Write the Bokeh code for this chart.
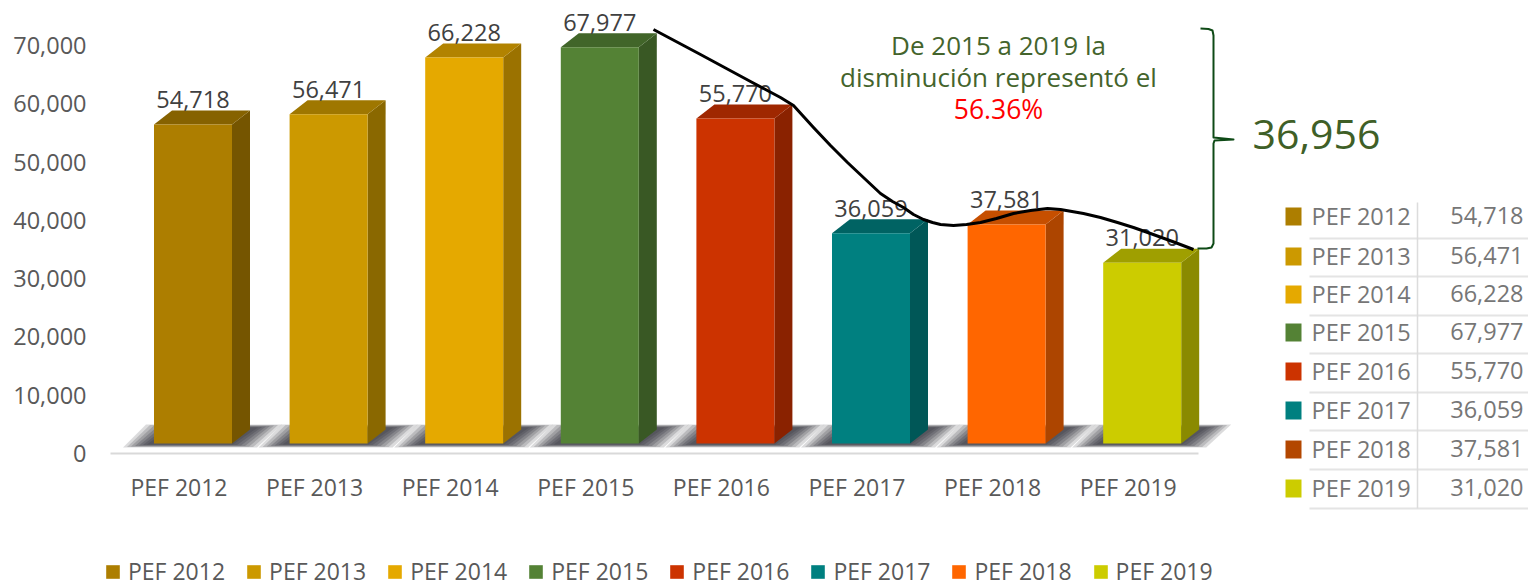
from bokeh.plotting import figure
from bokeh.models import Range1d, FixedTicker, ColumnDataSource, Legend, LegendItem, NumeralTickFormatter
from bokeh.core.properties import value
from bokeh.embed import file_html
from bokeh.resources import INLINE

# ---------- data ----------
categories = ["PEF 2012", "PEF 2013", "PEF 2014", "PEF 2015", "PEF 2016", "PEF 2017", "PEF 2018", "PEF 2019"]
values = [54718, 56471, 66228, 67977, 55770, 36059, 37581, 31020]
colors = ["#AD7E00", "#CC9900", "#E5A900", "#548235", "#CC3300", "#008080", "#FF6600", "#CCCC00"]
table_colors = ["#AD7E00", "#CC9900", "#E5A900", "#548235", "#CC3300", "#008080", "#B34700", "#CCCC00"]
y_ticks = [0, 10000, 20000, 30000, 40000, 50000, 60000, 70000]
note_lines = ["De 2015 a 2019 la", "disminución representó el"]
note_pct = "56.36%"
total_drop = "36,956"
# hand-drawn trend curve and brace, image pixels
curve_x = [653, 700, 750, 780, 793, 813, 830, 847, 864, 880, 892, 903, 913, 923, 932, 940, 953, 966, 980, 996, 1013, 1030, 1047, 1060, 1083, 1100, 1117, 1133, 1150, 1172, 1193]
curve_y = [29, 54, 81, 97, 105, 127, 145, 162, 178, 193, 201, 207, 214, 219, 222, 224, 225, 224, 222, 218, 213, 210, 208, 209, 213, 217, 222, 227, 233, 241, 249]
brace_x = [1200, 1208, 1212, 1213, 1213, 1233, 1214, 1213, 1213, 1211, 1206, 1197]
brace_y = [28, 28.5, 30, 35, 137, 139, 140, 143, 243, 247, 248, 248]

# ---------- layout (image pixels) ----------
FRAME_L, FRAME_R, FRAME_T, FRAME_B = 100, 1528, 0, 587
CAT0, CAT_STEP = 178.5, 135.6
Y0, Y_PX = 453.0, 408.0 / 70000.0
bar_shift = 14 / CAT_STEP
half_w = 39 / CAT_STEP
dx = 18 / CAT_STEP
dy = 14 / Y_PX
floor = 10 / Y_PX


def shade(hex_color, k):
    r, g, b = (int(hex_color[i:i + 2], 16) for i in (1, 3, 5))
    return "#%02x%02x%02x" % (int(r * k), int(g * k), int(b * k))


p = figure(
    width=FRAME_R, height=FRAME_B, output_backend="svg", toolbar_location=None,
    x_range=Range1d((FRAME_L - CAT0) / CAT_STEP, (FRAME_R - CAT0) / CAT_STEP),
    y_range=Range1d((Y0 - FRAME_B) / Y_PX, (Y0 - FRAME_T) / Y_PX),
    min_border_left=FRAME_L, min_border_right=0, min_border_top=0, min_border_bottom=0,
    outline_line_color=None,
)
p.extra_x_ranges = {"px": Range1d(FRAME_L, FRAME_R)}
p.extra_y_ranges = {"px": Range1d(FRAME_B, FRAME_T)}
p.grid.visible = False

FONT = value("Open Sans")
SIZE = value("23.5px")

# axes
p.yaxis.ticker = FixedTicker(ticks=y_ticks)
p.yaxis.formatter = NumeralTickFormatter(format="0,0")
p.yaxis.axis_line_color = None
p.yaxis.major_tick_line_color = None
p.yaxis.minor_tick_line_color = None
p.yaxis.major_label_standoff = 8
p.yaxis.major_label_text_font = "Open Sans"
p.yaxis.major_label_text_font_size = "23.5px"
p.yaxis.major_label_text_color = "#595959"

p.xaxis.fixed_location = 0
p.xaxis.ticker = FixedTicker(ticks=list(range(len(categories))))
p.xaxis.major_label_overrides = {i: c for i, c in enumerate(categories)}
p.xaxis.bounds = ((110 - CAT0) / CAT_STEP, (1198 - CAT0) / CAT_STEP)
p.xaxis.axis_line_color = "#d9d9d9"
p.xaxis.axis_line_width = 2
p.xaxis.major_tick_line_color = None
p.xaxis.minor_tick_line_color = None
p.xaxis.major_label_standoff = 11
p.xaxis.major_label_text_font = "Open Sans"
p.xaxis.major_label_text_font_size = "23px"
p.xaxis.major_label_text_color = "#595959"

# ---------- bars ----------
xc = [i + bar_shift for i in range(len(values))]
lefts = [x - half_w for x in xc]
rights = [x + half_w for x in xc]
tops = [v + floor for v in values]
bottoms = [floor] * len(values)

# soft floor shadow, built as stacked translucent layers
sh_low = floor - 4 / Y_PX
sh_high = floor + 19 / Y_PX
for inset, alpha in ((0, 0.2), (4, 0.22), (8, 0.25), (12, 0.3), (16, 0.35), (20, 0.4), (24, 0.45)):
    vin = inset * 0.12 / Y_PX
    xs, ys = [], []
    for l, r in zip(lefts, rights):
        xs.append([l - (31 - inset) / CAT_STEP, l - (8 - inset) / CAT_STEP,
                   r + (50 - inset) / CAT_STEP, r + (25 - inset) / CAT_STEP])
        ys.append([sh_low + vin, sh_high - vin, sh_high - vin, sh_low + vin])
    p.patches(xs, ys, fill_color="#4a4a52", fill_alpha=alpha, line_color=None)

side_xs = [[r, r + dx, r + dx, r] for r in rights]
side_ys = [[b, b + dy, t + dy, t] for b, t in zip(bottoms, tops)]
p.patches(side_xs, side_ys, fill_color=[shade(c, 0.68) for c in colors], line_color=None)

top_xs = [[l, l + dx, r + dx, r] for l, r in zip(lefts, rights)]
top_ys = [[t, t + dy, t + dy, t] for t in tops]
p.patches(top_xs, top_ys, fill_color=[shade(c, 0.78) for c in colors], line_color=None)

src = ColumnDataSource(dict(left=lefts, right=rights, top=tops, bottom=bottoms, color=colors))
front = p.quad(left="left", right="right", top="top", bottom="bottom", fill_color="color", line_color=None, source=src)

# value labels above the bars
p.text(xc, values, text=[f"{v:,}" for v in values], text_align="center", text_baseline="middle",
       y_offset=-35, text_font=FONT, text_font_size=SIZE, text_color="#404040")

# ---------- trend curve and brace ----------
PX = dict(x_range_name="px", y_range_name="px")
p.line(curve_x, curve_y, line_color="#000000", line_width=3, line_join="round", **PX)
p.line(brace_x, brace_y, line_color="#0e4a16", line_width=2, line_join="round", **PX)

# ---------- annotation texts ----------
p.text([998, 998], [44, 76], text=note_lines, text_align="center", text_baseline="middle",
       text_font=FONT, text_font_size=value("26px"), text_color="#44642c", **PX)
p.text([998], [108], text=[note_pct], text_align="center", text_baseline="middle",
       text_font=FONT, text_font_size=value("26.5px"), text_color="#ff0000", **PX)
p.text([1252], [134], text=[total_drop], text_align="left", text_baseline="middle",
       text_font=FONT, text_font_size=value("41px"), text_color="#3f5f27", **PX)

# ---------- side table ----------
row_y = [216, 256, 294, 332, 371, 410, 449, 488]
rule_y = [238, 276, 315, 353, 392, 430, 469, 508]
p.rect([1293] * len(row_y), row_y, width=16, height=18, fill_color=table_colors, line_color=None, **PX)
p.segment([1309] * len(rule_y), rule_y, [1528] * len(rule_y), rule_y, line_color="#e4e4e4", line_width=2, **PX)
p.segment([1417], [202], [1417], [508], line_color="#dcdcdc", line_width=1.5, **PX)
text_y = [y - 1 for y in row_y]
p.text([1311] * len(row_y), text_y, text=categories, text_align="left", text_baseline="middle",
       text_font=FONT, text_font_size=SIZE, text_color="#767676", **PX)
p.text([1523] * len(row_y), text_y, text=[f"{v:,}" for v in values], text_align="right", text_baseline="middle",
       text_font=FONT, text_font_size=SIZE, text_color="#767676", **PX)

# ---------- bottom legend ----------
legend = Legend(
    items=[LegendItem(label=c, renderers=[front], index=i) for i, c in enumerate(categories)],
    orientation="horizontal", location=(4, 0), glyph_width=17, glyph_height=17,
    label_standoff=7, spacing=20, padding=0, margin=0,
    border_line_color=None, background_fill_alpha=0,
    label_text_font="Open Sans", label_text_font_size="23px", label_text_color="#595959",
)
p.add_layout(legend)

open("out.html", "w").write(file_html(p, INLINE))
